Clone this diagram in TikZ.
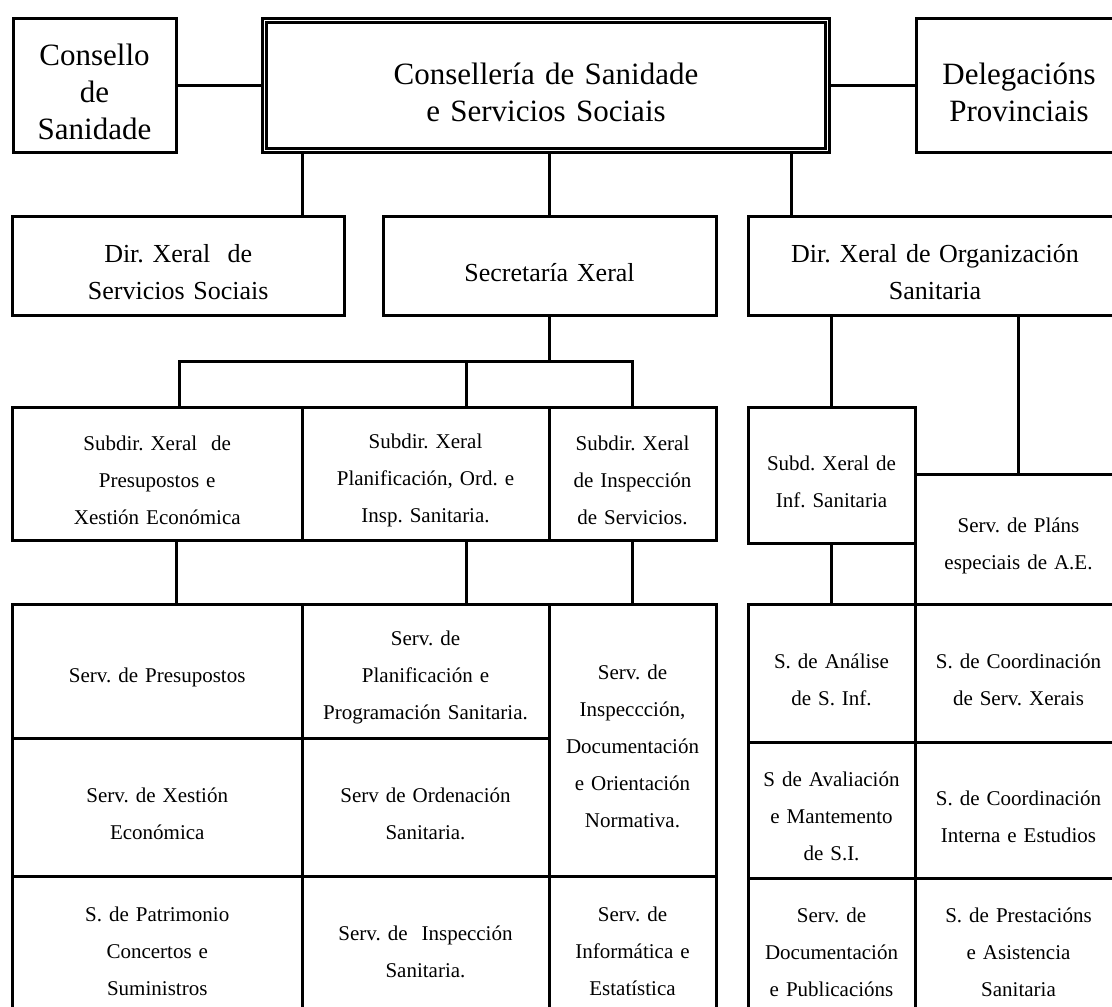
\documentclass[tikz,border=0pt]{standalone}
\usepackage{fontspec}
\setmainfont{Liberation Serif}
\usetikzlibrary{positioning,calc}

\begin{document}
\begin{tikzpicture}[
    x=1pt, y=-1pt,
    box/.style={rectangle, draw=black, line width=3pt, outer sep=0pt, inner sep=2pt, align=center,
      execute at begin node={\frenchspacing\rule{0pt}{\dimexpr0.7em+13pt\relax}}},
    wd/.style={minimum width=#1, text width=#1-12pt},
    big/.style={box, font=\fontsize{31}{37}\selectfont},
    mid/.style={box, font=\fontsize{26}{37}\selectfont, minimum height=99pt},
    small/.style={box, font=\fontsize{21}{37}\selectfont},
    link/.style={line width=3pt}
  ]
    \useasboundingbox (0,0) rectangle (1112,1007);
    \clip (0,0) rectangle (1112,1007);

    \node[big, wd=563pt, minimum height=130pt, line width=2.5pt, double, double distance=1.8pt, outer sep=3.4pt] (csss) at (546,85.5) {Consellería de Sanidade\\e Servicios Sociais};
    \node[big, wd=163pt, minimum height=134pt] (cons) at (94.5,85.5) {Consello\\de\\Sanidade};
    \node[big, wd=206pt, minimum height=134pt] (dele) at (1019,85.5) {Delegacións\\Provinciais};

    \node[mid, wd=331.5pt] (dxss) at (178.25,266) {Dir. Xeral \ de\\Servicios Sociais};
    \node[mid, wd=333pt] (secx) at (549.5,266) {Secretaría Xeral};
    \node[mid, wd=374pt] (dxos) at (935,266) {Dir. Xeral de Organización\\Sanitaria};

    \node[small, wd=289.5pt, minimum height=133pt] (subpres) at (157.25,473.5) {Subdir. Xeral \ de\\Presupostos e\\Xestión Económica};
    \node[small, wd=247pt, minimum height=133pt, right=0pt of subpres] (subplan) {Subdir. Xeral\\Planificación, Ord. e\\Insp. Sanitaria.};
    \node[small, wd=167pt, minimum height=133pt, right=0pt of subplan] (subinsp) {Subdir. Xeral\\de Inspección\\de Servicios.};
    \node[small, wd=167pt, minimum height=136pt] (subinf) at (831.5,475) {Subd. Xeral de\\Inf. Sanitaria};
    \node[small, wd=207pt, minimum height=130pt] (plans) at (1018.5,539) {Serv. de Pláns\\especiais de A.E.};

    \node[small, wd=289.5pt, minimum height=134pt] (g11) at (157.25,671) {Serv. de Presupostos};
    \node[small, wd=289.5pt, minimum height=138pt, below=0pt of g11] (g21) {Serv. de Xestión\\Económica};
    \node[small, wd=289.5pt, minimum height=138pt, below=0pt of g21] (g31) {S. de Patrimonio\\Concertos e\\Suministros};
    \node[small, wd=247pt, minimum height=134pt, right=0pt of g11] (g12) {Serv. de\\Planificación e\\Programación Sanitaria.};
    \node[small, wd=247pt, minimum height=138pt, right=0pt of g21] (g22) {Serv de Ordenación\\Sanitaria.};
    \node[small, wd=247pt, minimum height=138pt, right=0pt of g31] (g32) {Serv. de \ Inspección\\Sanitaria.};
    \node[small, wd=167pt, minimum height=272pt, below right=0pt and 0pt of g12.north east] (g13) {Serv. de\\Inspeccción,\\Documentación\\e Orientación\\Normativa.};
    \node[small, wd=167pt, minimum height=138pt, right=0pt of g32] (g33) {Serv. de\\Informática e\\Estatística};

    \node[small, wd=167pt, minimum height=138pt] (r11) at (831.5,673) {S. de Análise\\de S. Inf.};
    \node[small, wd=207pt, minimum height=138pt, right=0pt of r11] (r12) {S. de Coordinación\\de Serv. Xerais};
    \node[small, wd=167pt, minimum height=136pt, below=0pt of r11] (r21) {S de Avaliación\\e Mantemento\\de S.I.};
    \node[small, wd=207pt, minimum height=136pt, right=0pt of r21] (r22) {S. de Coordinación\\Interna e Estudios};
    \node[small, wd=167pt, minimum height=136pt, below=0pt of r21] (r31) {Serv. de\\Documentación\\e Publicacións};
    \node[small, wd=207pt, minimum height=136pt, right=0pt of r31] (r32) {S. de Prestacións\\e Asistencia\\Sanitaria};

    \coordinate (dxtop) at ([xshift=43pt]dxos.north west);
    \coordinate (presin) at ([xshift=21.75pt]subpres.north);
    \coordinate (planin) at ([xshift=40.5pt]subplan.north);
    \coordinate (presout) at ([xshift=18.75pt]subpres.south);
    \coordinate (planout) at ([xshift=40.5pt]subplan.south);
    \coordinate (sxbar) at ($(secx.south)!0.5!(secx.south |- subplan.north)$);

    \draw[link] (cons) -- (csss);
    \draw[link] (csss) -- (dele);
    \draw[link] (csss.south -| subpres.east) -- (dxss.north -| subpres.east);
    \draw[link] (secx.north |- csss.south) -- (secx.north);
    \draw[link] (dxtop |- csss.south) -- (dxtop);
    \draw[link] (secx.south) -- (sxbar);
    \draw[link] (presin) |- (sxbar) -| (subinsp.north);
    \draw[link] (planin |- sxbar) -- (planin);
    \draw[link] (presout) -- (presout |- g11.north);
    \draw[link] (planout) -- (planout |- g12.north);
    \draw[link] (subinsp) -- (g13);
    \draw[link] (subinf.north |- dxos.south) -- (subinf.north);
    \draw[link] (plans.north |- dxos.south) -- (plans.north);
    \draw[link] (subinf) -- (r11);
  \end{tikzpicture}
\end{document}
